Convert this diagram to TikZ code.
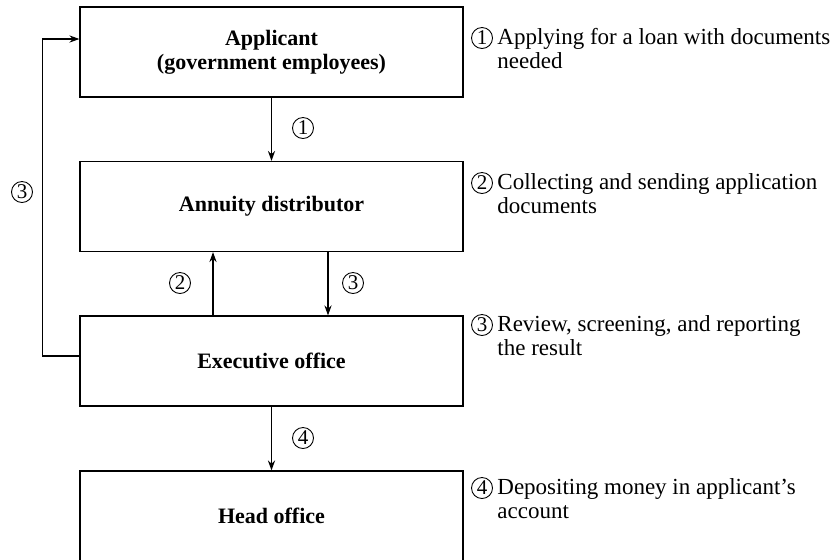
\documentclass[tikz,border=0pt]{standalone}
\usepackage{fontspec}
\setmainfont{Liberation Serif}
\usetikzlibrary{arrows.meta}
\begin{document}
\begin{tikzpicture}[x=0.5pt,y=-0.5pt,
  box/.style={draw,line width=0.6pt,minimum width=191.5pt,minimum height=45pt,inner sep=0pt,
    align=center,font=\fontsize{11}{12}\selectfont\bfseries},
  num/.style={circle,draw,line width=0.45pt,inner sep=0pt,minimum size=10.5pt,
    font=\fontsize{10.5}{11}\selectfont},
  desc/.style={anchor=base west,inner sep=0pt,font=\fontsize{11.5}{12}\selectfont},
  arr/.style={line width=0.6pt,-{Stealth[length=5pt,width=3.6pt]}}]
\useasboundingbox (0,0) rectangle (838,559);
\clip (0,0) rectangle (838,559);
\node[box] (app) at (271.5,52) {Applicant\\(government employees)};
\node[box] (ann) at (271.5,206.5) {Annuity distributor};
\node[box] (exe) at (271.5,361) {Executive office};
\node[box] (hea) at (271.5,516) {Head office};
% connectors
\draw[arr] (app.south) -- (ann.north);
\draw[arr] ([xshift=-29.25pt]exe.north) -- ([xshift=-29.25pt]ann.south);
\draw[arr] ([xshift=28.25pt]ann.south) -- ([xshift=28.25pt]exe.north);
\draw[arr] (exe.south) -- (hea.north);
\draw[arr] ([yshift=2.5pt]exe.west) -- ++(-37,0) |- ([yshift=6.5pt]app.west);
% connector labels
\node[num] (n1) at (303,128) {1};
\node[num] (n2) at (180,283) {2};
\node[num] (n3) at (353,283) {3};
\node[num] (n4) at (303,438) {4};
\node[num] (n3l) at (22,192) {3};
% descriptions
\node[num] (r1) at (482,38) {1};
\node[desc] (d1a) at (497,44) {Applying for a loan with documents};
\node[desc] (d1b) at (497,68) {needed};
\node[num] (r2) at (482,183) {2};
\node[desc] (d2a) at (497,189) {Collecting and sending application};
\node[desc] (d2b) at (497,213) {documents};
\node[num] (r3) at (482,325) {3};
\node[desc] (d3a) at (497,331) {Review, screening, and reporting};
\node[desc] (d3b) at (497,355) {the result};
\node[num] (r4) at (482,488) {4};
\node[desc] (d4a) at (497,494) {Depositing money in applicant’s};
\node[desc] (d4b) at (497,518) {account};
\end{tikzpicture}
\end{document}
